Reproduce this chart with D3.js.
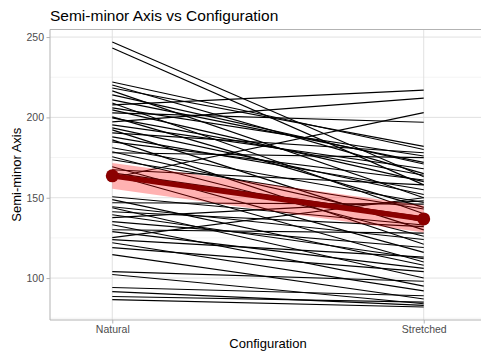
<!DOCTYPE html>
<html>
<head>
<meta charset="utf-8">
<script src="https://cdn.jsdelivr.net/npm/d3@7"></script>
<style>
  body { margin: 0; background: #fff; }
  svg { display: block; font-family: "Liberation Sans", Arial, sans-serif; }
</style>
</head>
<body>
<svg id="chart" width="481" height="355"></svg>
<script>
// Configurations on the x axis
const configurations = ["Natural", "Stretched"];

// Paired measurements of the semi-minor axis, one entry per specimen
const naturalValues = [
  246.9, 243.2, 222.0, 220.2, 218.3, 216.5, 214.0, 210.9, 209.0, 207.8,
  205.9, 204.7, 202.8, 200.3, 199.7, 197.2, 195.3, 193.5, 192.2, 190.4,
  187.9, 186.0, 184.8, 181.1, 178.6, 178.0, 175.5, 173.6, 169.3, 167.4,
  165.5, 164.3, 162.4, 150.6, 148.8, 146.9, 144.4, 143.8, 141.3, 139.4,
  137.6, 135.1, 133.2, 130.1, 128.9, 125.2, 123.9, 122.0, 118.9, 114.6,
  104.0, 102.2, 94.1, 91.6, 88.5, 86.6
];
const stretchedValues = [
  163, 158, 180, 165, 182, 150, 171, 172, 140, 217,
  176, 160, 197, 144, 164, 212, 168, 152, 130, 178,
  155, 121, 161, 147, 135, 175, 126, 143, 116, 158,
  138, 110, 203, 133, 108, 146, 124, 100, 132, 112,
  148, 119, 95, 128, 106, 150, 113, 92, 104, 87,
  98, 84, 89, 83, 85, 82
];

// Group mean and 95% confidence band per configuration
const meanValues = [163.6, 136.8];
const ciLower = [155.6, 128.4];
const ciUpper = [171.6, 145.2];

// Axis ticks
const yTicksMajor = [100, 150, 200, 250];
const yTicksMinor = [75, 125, 175, 225];

const svg = d3.select("#chart");
const panel = { left: 50, right: 486, top: 29.5, bottom: 320 };

const x = d3.scalePoint()
  .domain(configurations)
  .range([panel.left, panel.right])
  .padding(0.2);

const y = d3.scaleLinear()
  .domain([73.9, 254.7])
  .range([panel.bottom, panel.top]);

// Grid
const grid = svg.append("g");
grid.selectAll("line.minor")
  .data(yTicksMinor.filter(v => v > y.domain()[0]))
  .join("line")
  .attr("x1", panel.left).attr("x2", panel.right)
  .attr("y1", d => y(d)).attr("y2", d => y(d))
  .attr("stroke", "#ebebeb").attr("stroke-width", 0.6);
grid.selectAll("line.major")
  .data(yTicksMajor)
  .join("line")
  .attr("x1", panel.left).attr("x2", panel.right)
  .attr("y1", d => y(d)).attr("y2", d => y(d))
  .attr("stroke", "#dedede").attr("stroke-width", 0.9);
grid.selectAll("line.vx")
  .data(configurations)
  .join("line")
  .attr("x1", d => x(d)).attr("x2", d => x(d))
  .attr("y1", panel.top).attr("y2", panel.bottom)
  .attr("stroke", "#dedede").attr("stroke-width", 0.9);

// Individual paired lines
const pairs = naturalValues.map((v, i) => [v, stretchedValues[i]]);
const pairLine = d3.line()
  .x((d, i) => x(configurations[i]))
  .y(d => y(d));
svg.append("g")
  .selectAll("path")
  .data(pairs)
  .join("path")
  .attr("d", pairLine)
  .attr("fill", "none")
  .attr("stroke", "#000")
  .attr("stroke-width", 1.15);

// Confidence band
const band = d3.area()
  .x((d, i) => x(configurations[i]))
  .y0((d, i) => y(ciLower[i]))
  .y1((d, i) => y(ciUpper[i]));
svg.append("path")
  .attr("d", band(configurations))
  .attr("fill", "#ff0000")
  .attr("fill-opacity", 0.3);

// Mean line and points
const meanLine = d3.line()
  .x((d, i) => x(configurations[i]))
  .y(d => y(d));
svg.append("path")
  .attr("d", meanLine(meanValues))
  .attr("fill", "none")
  .attr("stroke", "#8b0000")
  .attr("stroke-width", 5.5);
svg.append("g")
  .selectAll("circle")
  .data(meanValues)
  .join("circle")
  .attr("cx", (d, i) => x(configurations[i]))
  .attr("cy", d => y(d))
  .attr("r", 6.5)
  .attr("fill", "#8b0000");

// Panel border (left, top, bottom)
svg.append("path")
  .attr("d", `M${panel.right},${panel.top}H${panel.left}V${panel.bottom}H${panel.right}`)
  .attr("fill", "none")
  .attr("stroke", "#b3b3b3")
  .attr("stroke-width", 1);

// Axes
const yAxis = svg.append("g")
  .attr("transform", `translate(${panel.left},0)`)
  .call(d3.axisLeft(y).tickValues(yTicksMajor).tickSize(3.5).tickPadding(2.5));
const xAxis = svg.append("g")
  .attr("transform", `translate(0,${panel.bottom})`)
  .call(d3.axisBottom(x).tickSize(3.5).tickPadding(2.5));
[yAxis, xAxis].forEach(g => {
  g.select(".domain").remove();
  g.selectAll(".tick line").attr("stroke", "#b3b3b3");
  g.selectAll(".tick text")
    .attr("fill", "#4d4d4d")
    .style("font-size", "10.5px")
    .style("font-family", "'Liberation Sans', Arial, sans-serif");
});

// Titles
svg.append("text")
  .attr("x", panel.left).attr("y", 21)
  .attr("fill", "#000")
  .style("font-size", "15.5px")
  .text("Semi-minor Axis vs Configuration");
svg.append("text")
  .attr("x", (panel.left + panel.right) / 2).attr("y", 348)
  .attr("text-anchor", "middle")
  .attr("fill", "#000")
  .style("font-size", "13px")
  .text("Configuration");
svg.append("text")
  .attr("transform", `translate(21,${(panel.top + panel.bottom) / 2}) rotate(-90)`)
  .attr("text-anchor", "middle")
  .attr("fill", "#000")
  .style("font-size", "13px")
  .text("Semi-minor Axis");
</script>
</body>
</html>
